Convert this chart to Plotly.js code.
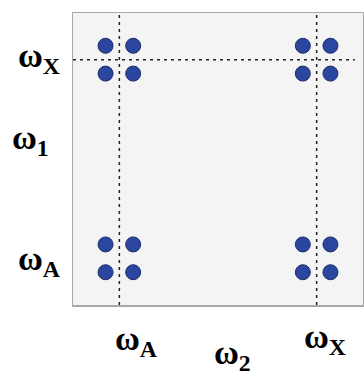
<!DOCTYPE html>
<html>
<head>
<meta charset="utf-8">
<script src="https://cdn.plot.ly/plotly-3.0.1.min.js"></script>
<style>
  html, body { margin: 0; padding: 0; background: #ffffff; }
  #plot { width: 364px; height: 377px; }
</style>
</head>
<body>
<div id="plot"></div>
<script>
// frequency positions (omega_A = 0, omega_X = 1) on both axes
var freqs = [0, 1];
var freq_labels = ["A", "X"];

// each peak is split into a 2x2 multiplet
var split = 0.07;

// peak positions (omega_2, omega_1)
var peaks_w2 = [];
var peaks_w1 = [];
freqs.forEach(function (f2) {
  freqs.forEach(function (f1) {
    [-split, split].forEach(function (d2) {
      [-split, split].forEach(function (d1) {
        peaks_w2.push(f2 + d2);
        peaks_w1.push(f1 + d1);
      });
    });
  });
});

var trace_peaks = {
  x: peaks_w2,
  y: peaks_w1,
  type: "scatter",
  mode: "markers",
  hoverinfo: "none",
  marker: {
    size: 15,
    color: "rgb(42,70,160)",
    line: { color: "rgb(30,44,100)", width: 1 },
  },
};

var labelFont = { family: "Times New Roman", size: 34, color: "#000" };

function omega(sub) {
  return "<b>\u03C9<sub>" + sub + "</sub></b>";
}

var annotations = [
  // left axis labels
  { text: omega(freq_labels[1]), xref: "paper", yref: "y", x: 0, y: freqs[1],
    xanchor: "right", yanchor: "middle", xshift: -11, yshift: 2 },
  { text: omega("1"), xref: "paper", yref: "paper", x: 0, y: 0.565,
    xanchor: "right", yanchor: "middle", xshift: -22 },
  { text: omega(freq_labels[0]), xref: "paper", yref: "y", x: 0, y: freqs[0],
    xanchor: "right", yanchor: "middle", xshift: -10, yshift: -3 },
  // bottom axis labels
  { text: omega(freq_labels[0]), xref: "x", yref: "paper", x: freqs[0], y: 0,
    xanchor: "center", yanchor: "top", xshift: 17, yshift: -13 },
  { text: omega("2"), xref: "paper", yref: "paper", x: 0.55, y: 0,
    xanchor: "center", yanchor: "top", yshift: -27 },
  { text: omega(freq_labels[1]), xref: "x", yref: "paper", x: freqs[1], y: 0,
    xanchor: "center", yanchor: "top", xshift: 8, yshift: -11 },
].map(function (a) {
  a.showarrow = false;
  a.font = labelFont;
  return a;
});

var dotted = { color: "#222", width: 1.5, dash: "3px,4px" };

var shapes = [
  { type: "line", xref: "x", yref: "paper", x0: freqs[0], x1: freqs[0], y0: 0, y1: 1, line: dotted },
  { type: "line", xref: "x", yref: "paper", x0: freqs[1], x1: freqs[1], y0: 0, y1: 1, line: dotted },
  { type: "line", xref: "paper", yref: "y", x0: 0, x1: 0.972, y0: freqs[1], y1: freqs[1], line: dotted },
];

var layout = {
  width: 364,
  height: 377,
  margin: { l: 73, r: 1, t: 13, b: 72 },
  paper_bgcolor: "#ffffff",
  plot_bgcolor: "#f4f4f4",
  showlegend: false,
  xaxis: {
    range: [-0.235, 1.235],
    showgrid: false,
    zeroline: false,
    showticklabels: false,
    ticks: "",
    showline: true,
    mirror: true,
    linecolor: "#a8a8a8",
    linewidth: 1.5,
  },
  yaxis: {
    range: [-0.235, 1.235],
    showgrid: false,
    zeroline: false,
    showticklabels: false,
    ticks: "",
    showline: true,
    mirror: true,
    linecolor: "#a8a8a8",
    linewidth: 1.5,
  },
  shapes: shapes,
  annotations: annotations,
};

var config = { displayModeBar: false, staticPlot: true };

Plotly.newPlot("plot", [trace_peaks], layout, config);
</script>
</body>
</html>
